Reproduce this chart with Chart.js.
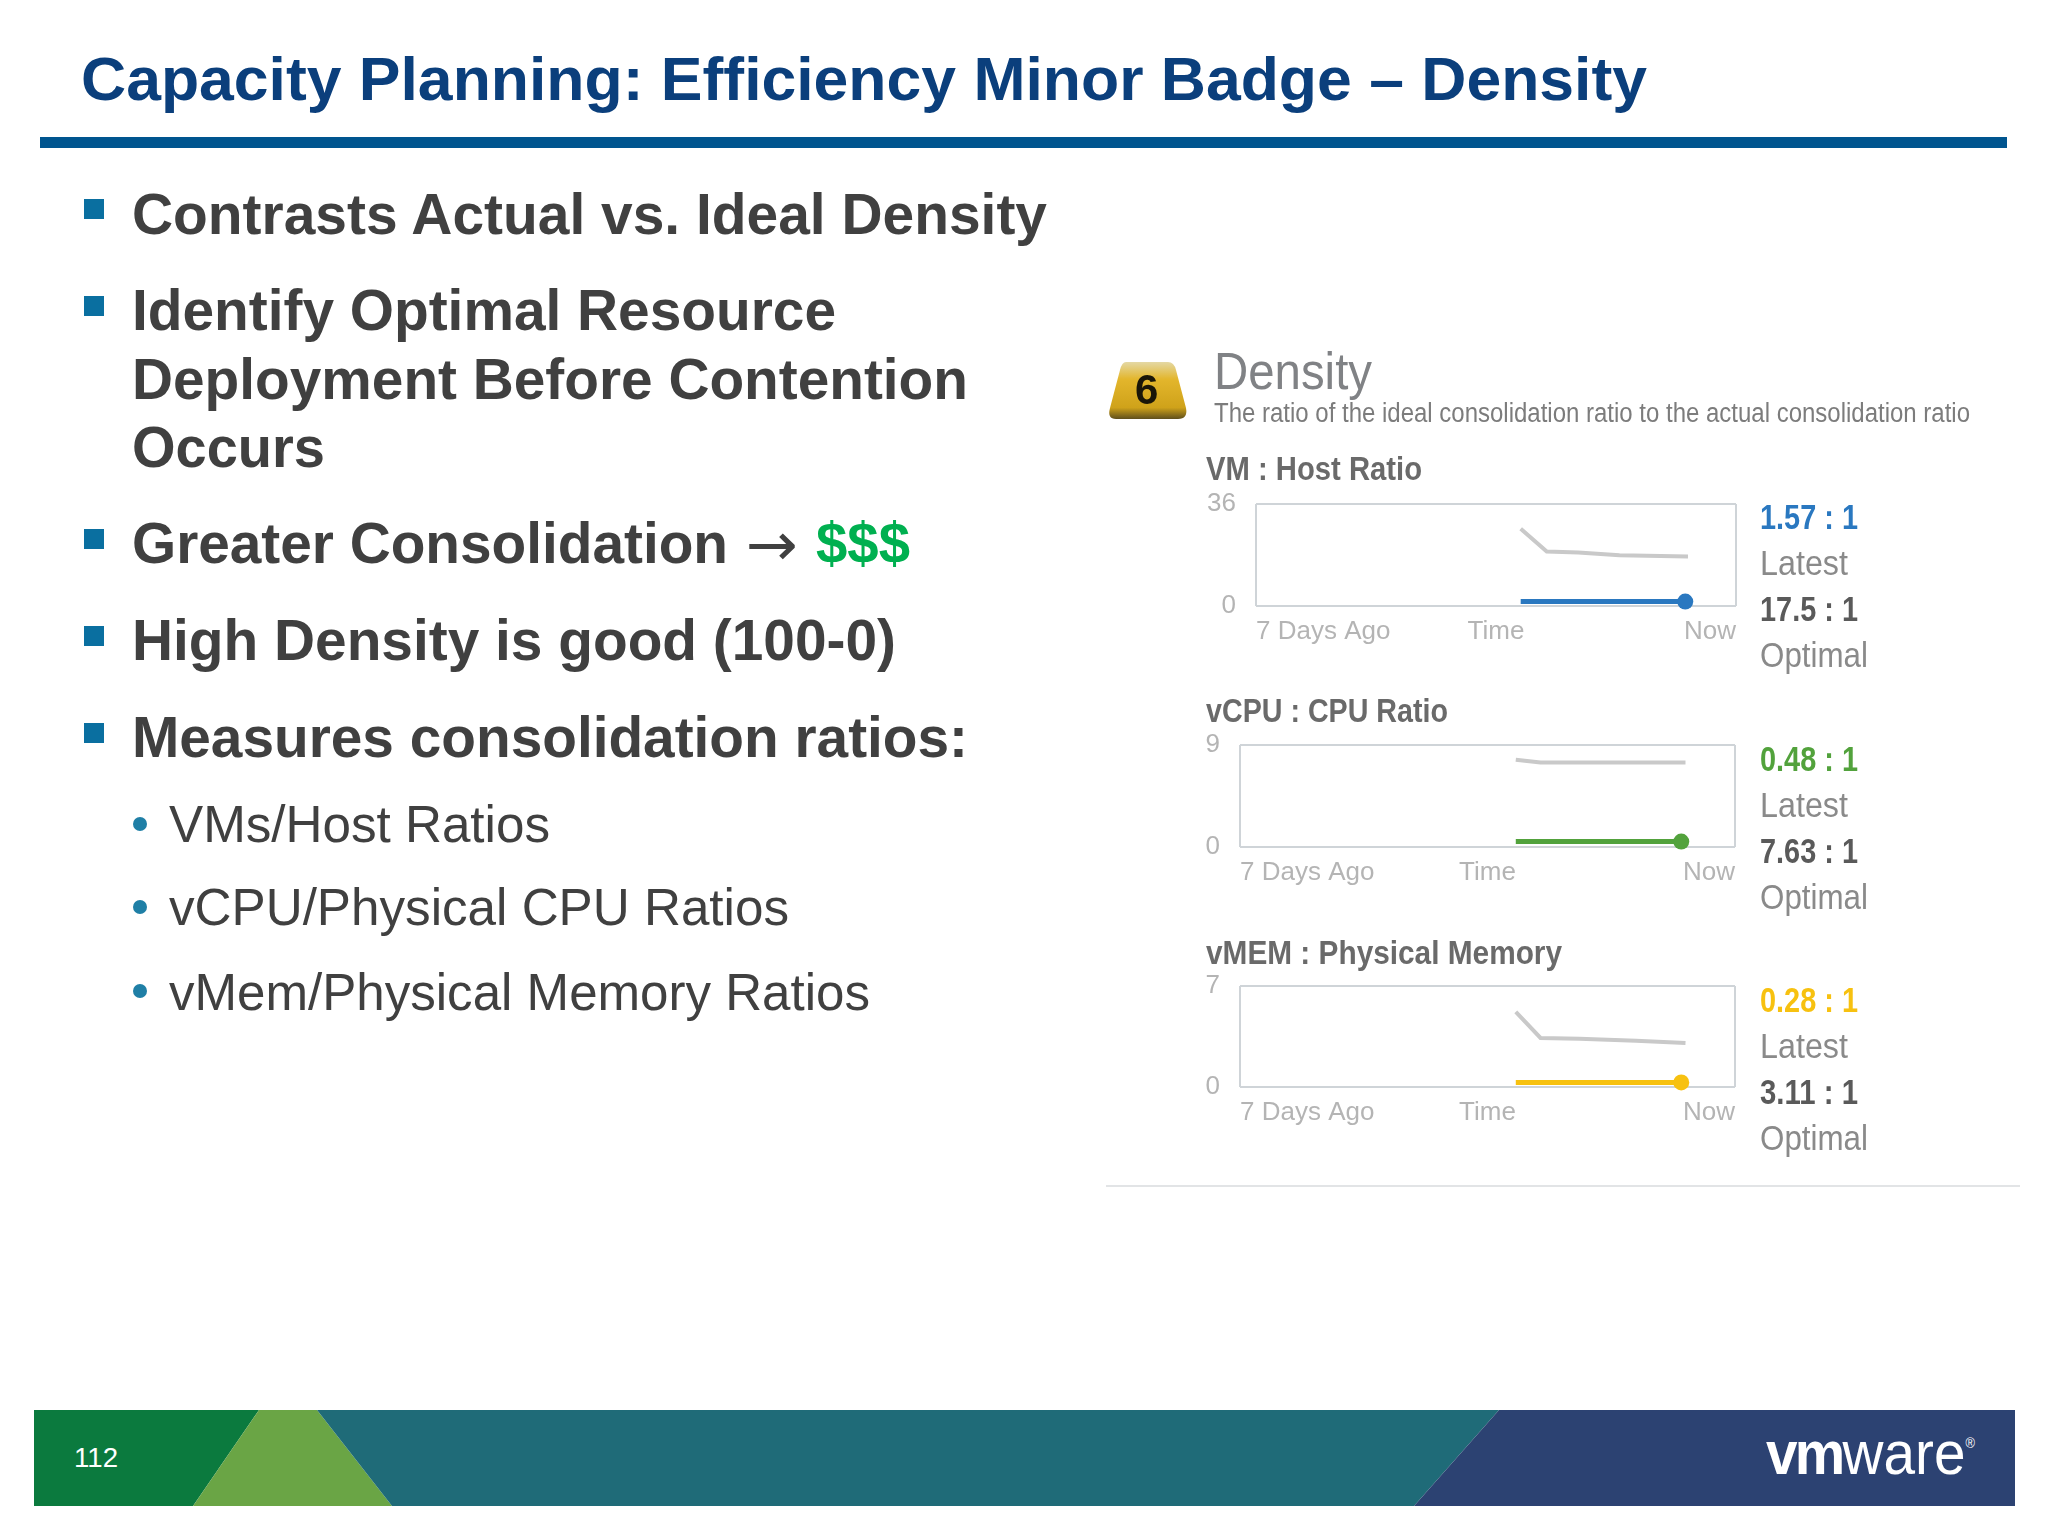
<!DOCTYPE html>
<html><head><meta charset="utf-8">
<script src="https://cdn.jsdelivr.net/npm/chart.js@4"></script>
<style>
html,body{margin:0;padding:0;background:#fff;width:2048px;height:1536px;overflow:hidden}
body{position:relative;font-family:"Liberation Sans",Arial,sans-serif}
#slide,#panel{position:absolute;left:0;top:0;width:2048px;height:1536px}
#panel{filter:blur(0.7px)}
.t{position:absolute;white-space:pre;transform-origin:0 50%;line-height:normal}
.b{position:absolute}
canvas{position:absolute}
</style></head><body>
<div id="slide">
<svg class="b" style="left:0;top:0" width="2048" height="1536">
  <polygon points="34,1410 259,1410 193,1506 34,1506" fill="#0b7a3e"/>
  <polygon points="259,1410 317,1410 392,1506 193,1506" fill="#6aa545"/>
  <polygon points="317,1410 1499,1410 1414,1506 392,1506" fill="#1f6b78"/>
  <polygon points="1499,1410 2015,1410 2015,1506 1414,1506" fill="#2c4272"/>
</svg>
</div>
<div id="panel">
<svg class="b" style="left:0;top:0" width="2048" height="1536">
  <defs><linearGradient id="g" x1="0" y1="0" x2="0" y2="1">
    <stop offset="0" stop-color="#e4d8a4"/><stop offset="0.3" stop-color="#e3b62c"/>
    <stop offset="0.8" stop-color="#cfa21a"/><stop offset="1" stop-color="#5f4f1c"/></linearGradient></defs>
  <path d="M1126,362 L1168,362 Q1174,362 1176,370 L1186,408 Q1188,419 1178,419 L1116,419 Q1107,419 1110,408 L1120,370 Q1122,362 1126,362 Z" fill="url(#g)"/>
  <rect x="1106" y="1185" width="914" height="2" fill="#e2e4e6"/>
</svg>
</div>
<script>
// ---- chart data ----
const xTickLabels = ['7 Days Ago', 'Time', 'Now'];

const hostDays       = [3.86, 4.24, 4.7, 5.3, 6.3];
const hostOptimal    = [27.3, 19.2, 18.9, 17.9, 17.5];
const hostLatestDays = [3.86, 6.26];
const hostLatest     = [1.57, 1.57];
const hostMax = 36;

const cpuDays       = [3.9, 4.25, 5.2, 6.3];
const cpuOptimal    = [7.7, 7.45, 7.45, 7.45];
const cpuLatestDays = [3.9, 6.24];
const cpuLatest     = [0.48, 0.48];
const cpuMax = 9;

const memDays       = [3.9, 4.25, 4.8, 5.6, 6.3];
const memOptimal    = [5.2, 3.4, 3.35, 3.2, 3.05];
const memLatestDays = [3.9, 6.24];
const memLatest     = [0.32, 0.32];
const memMax = 7;

const dayMax = 7;
const blue = '#2a78c0', green = '#52a23c', yellow = '#f7c110', greyLine = '#c9c9c9';

// ---- text helper: x, baseline, size, weight, colour, target width ----
function T(parent, text, x, base, size, weight, color, w, html, family) {
  const s = document.createElement('span');
  s.className = 't';
  if (html) s.innerHTML = text; else s.textContent = text;
  s.style.cssText = `left:${x}px;top:${base - 0.92 * size}px;font-size:${size}px;font-weight:${weight};color:${color}` + (family ? `;font-family:${family}` : '');
  parent.appendChild(s);
  if (w) { const r = w / s.getBoundingClientRect().width; s.style.transform = `scaleX(${r})`; s.style.transformOrigin = '0 50%'; }
  return s;
}
const slide = document.getElementById('slide'), panel = document.getElementById('panel');

function box(x, y, w, h, c, round) {
  const d = document.createElement('div'); d.className = 'b';
  d.style.cssText = `left:${x}px;top:${y}px;width:${w}px;height:${h}px;background:${c};${round ? 'border-radius:50%' : ''}`;
  slide.appendChild(d);
}

// title
T(slide, 'Capacity Planning: Efficiency Minor Badge – Density', 81, 100, 61, 700, '#0b3f7c', 1566);
box(40, 137, 1967, 11, '#00558f');

// bullets
const dark = '#404040';
box(84, 199, 20, 20, '#0a6fa0');
T(slide, 'Contrasts Actual vs. Ideal Density', 132, 233, 57, 700, dark, 915);
box(84, 296, 20, 20, '#0a6fa0');
T(slide, 'Identify Optimal Resource', 132, 329, 57, 700, dark, 704);
T(slide, 'Deployment Before Contention', 132, 398, 57, 700, dark, 836);
T(slide, 'Occurs', 132, 466, 57, 700, dark, 193);
box(84, 529, 20, 20, '#0a6fa0');
T(slide, 'Greater Consolidation', 132, 562, 57, 700, dark, 596);
T(slide, '→', 746, 564, 60, 400, dark, 52, false, '"DejaVu Sans"');
T(slide, '$$$', 816, 562, 57, 700, '#00b050', 94);
box(84, 626, 20, 20, '#0a6fa0');
T(slide, 'High Density is good (100-0)', 132, 659, 57, 700, dark, 764);
box(84, 723, 20, 20, '#0a6fa0');
T(slide, 'Measures consolidation ratios:', 132, 756, 57, 700, dark, 836);
[[817,'VMs/Host Ratios',381,842],[900,'vCPU/Physical CPU Ratios',620,925],[984,'vMem/Physical Memory Ratios',701,1010]].forEach(r => {
  box(133, r[0], 14, 14, '#1f7fa6', true);
  T(slide, r[1], 169, r[3], 52, 400, dark, r[2]);
});

// footer
T(slide, '112', 74, 1468, 27, 400, '#fff', 44);
T(slide, '<b style="letter-spacing:-3px">vm</b>ware<sup style="font-size:14px;vertical-align:26px">®</sup>', 1766, 1474, 62, 400, '#fff', 209, true);

// density panel
T(panel, '6', 1135, 405, 42, 700, '#1a1608');
T(panel, 'Density', 1214, 389, 52, 400, '#808285', 158);
T(panel, 'The ratio of the ideal consolidation ratio to the actual consolidation ratio', 1214, 423, 27, 400, '#7c7c7c', 756);

const grid = '#cfd4d8', tickCol = '#b4b4b4', F = {family:'"Liberation Sans"', size:26};
function chart(o) {
  const yW = 60, top = 20, right = 14, xH = 44;
  const bw = o.r - o.l, bh = o.b - o.t;
  const c = document.createElement('canvas');
  const W = yW + bw + right, H = top + bh + xH;
  c.width = W; c.height = H;
  c.style.cssText = `left:${o.l - yW}px;top:${o.t - top}px;width:${W}px;height:${H}px`;
  panel.appendChild(c);
  const pts = (xs, ys) => xs.map((x, i) => ({x, y: ys[i]}));
  new Chart(c, {
    type: 'line',
    data: { datasets: [
      { data: pts(o.days, o.optimal), borderColor: greyLine, borderWidth: 4, pointRadius: 0, tension: 0, clip: false },
      { data: pts(o.latestDays, o.latest), borderColor: o.color, borderWidth: 5, backgroundColor: o.color, tension: 0, clip: false,
        pointStyle: 'circle', pointBorderWidth: 0,
        pointRadius: ctx => ctx.dataIndex === o.latestDays.length - 1 ? 8 : 0 }
    ]},
    options: {
      responsive: false, animation: false, devicePixelRatio: 1,
      layout: { padding: { top, right, left: 0, bottom: 0 } },
      plugins: { legend: { display: false }, tooltip: { enabled: false } },
      scales: {
        x: { type: 'linear', min: 0, max: dayMax,
          afterBuildTicks: a => { a.ticks = [{value: 0}, {value: dayMax / 2}, {value: dayMax}]; },
          afterFit: a => { a.height = xH; a.paddingLeft = 0; a.paddingRight = 0; },
          border: { display: false },
          grid: { drawTicks: false, lineWidth: 2, color: ctx => ctx.index === 1 ? 'transparent' : grid },
          ticks: { autoSkip: false, maxRotation: 0, minRotation: 0, align: 'inner', padding: 10, color: tickCol, font: F,
            callback: (v, i) => xTickLabels[i] } },
        y: { min: 0, max: o.max,
          afterBuildTicks: a => { a.ticks = [{value: 0}, {value: o.max}]; },
          afterFit: a => { a.width = yW; a.paddingTop = 0; a.paddingBottom = 0; },
          border: { display: false },
          grid: { drawTicks: false, lineWidth: 2, color: grid },
          ticks: { padding: 20, color: tickCol, font: F, callback: v => String(v) } }
      }
    }
  });
  // titles and ratio read-outs
  T(panel, o.title, 1206, o.titleBase, 33, 700, '#6a6a6a', o.titleW);
  T(panel, o.latestText, 1760, o.b0, 35, 700, o.color, 98);
  T(panel, 'Latest', 1760, o.b0 + 46, 35, 400, '#8a8a8a', 88);
  T(panel, o.optimalText, 1760, o.b0 + 92, 35, 700, '#5a5a5a', 98);
  T(panel, 'Optimal', 1760, o.b0 + 138, 35, 400, '#8a8a8a', 108);
}
chart({l:1256, r:1736, t:504, b:606, max:hostMax, days:hostDays, optimal:hostOptimal, latestDays:hostLatestDays, latest:hostLatest, color:blue,
  title:'VM : Host Ratio', titleBase:480, titleW:216, latestText:'1.57 : 1', optimalText:'17.5 : 1', b0:529});
chart({l:1240, r:1735, t:745, b:847, max:cpuMax, days:cpuDays, optimal:cpuOptimal, latestDays:cpuLatestDays, latest:cpuLatest, color:green,
  title:'vCPU : CPU Ratio', titleBase:722, titleW:242, latestText:'0.48 : 1', optimalText:'7.63 : 1', b0:771});
chart({l:1240, r:1735, t:986, b:1087, max:memMax, days:memDays, optimal:memOptimal, latestDays:memLatestDays, latest:memLatest, color:yellow,
  title:'vMEM : Physical Memory', titleBase:964, titleW:356, latestText:'0.28 : 1', optimalText:'3.11 : 1', b0:1012});
</script>
</body></html>
